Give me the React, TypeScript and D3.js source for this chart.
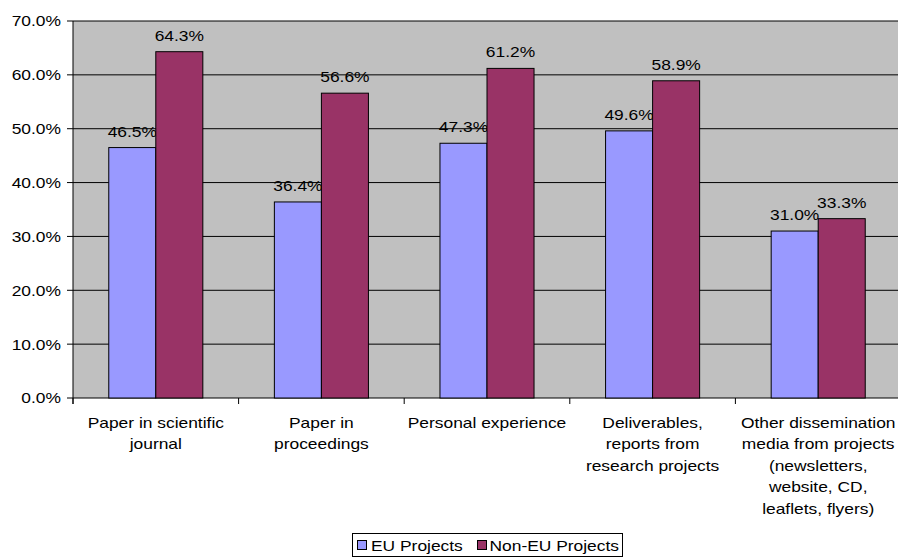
import React from "react";
import * as d3 from "d3";

const categories: string[][] = [
  ["Paper in scientific", "journal"],
  ["Paper in", "proceedings"],
  ["Personal experience"],
  ["Deliverables,", "reports from", "research projects"],
  ["Other dissemination", "media from projects", "(newsletters,", "website, CD,", "leaflets, flyers)"],
];
const euValues = [46.5, 36.4, 47.3, 49.6, 31.0];
const nonEuValues = [64.3, 56.6, 61.2, 58.9, 33.3];
const seriesNames = ["EU Projects", "Non-EU Projects"];
const yTicks = [0, 10, 20, 30, 40, 50, 60, 70];

const W = 898, H = 557;
const left = 73, right = 901, top = 21, bottom = 398;
const colors = ["#9999FF", "#993366"];
const font = "Arial, 'Liberation Sans', sans-serif";
const SX = 1.16;

function T(props: { x: number; y: number; anchor?: string; children: React.ReactNode; dy?: string }) {
  return (
    <text
      transform={`translate(${props.x},${props.y}) scale(${SX},1)`}
      dy={props.dy}
      textAnchor={props.anchor || "start"}
      fontSize={15}
      fill="#000"
    >
      {props.children}
    </text>
  );
}

export default function App() {
  const y = d3.scaleLinear().domain([0, 70]).range([bottom, top]);
  const x = d3.scaleBand<number>().domain(d3.range(categories.length)).range([left, right]).paddingInner(0).paddingOuter(0);
  const bw = x.bandwidth();
  const barW = bw * 0.284;
  const series = [euValues, nonEuValues];
  return (
    <svg width={W} height={H} style={{ position: "absolute", left: 0, top: 0 }} fontFamily={font}>
      <rect x={left} y={top} width={right - left} height={bottom - top} fill="#C0C0C0" />
      {yTicks.map((t) => (
        <g key={t}>
          <line x1={left} x2={right} y1={y(t)} y2={y(t)} stroke="#000" strokeWidth={1} />
          <line x1={left - 6} x2={left} y1={y(t)} y2={y(t)} stroke="#000" strokeWidth={1} />
          <T x={left - 12} y={y(t)} dy="0.36em" anchor="end">
            {t.toFixed(1)}%
          </T>
        </g>
      ))}
      <line x1={left} x2={left} y1={top} y2={bottom + 6} stroke="#000" />
      {categories.map((_, i) => (
        <line key={"t" + i} x1={(x(i) as number)} x2={(x(i) as number)} y1={bottom} y2={bottom + 6} stroke="#000" />
      ))}
      {categories.map((lines, i) => {
        const c = (x(i) as number) + bw / 2;
        return (
          <g key={"c" + i}>
            {series.map((vals, s) => {
              const bx = c - barW + s * barW;
              const v = vals[i];
              return (
                <g key={s}>
                  <rect x={bx} y={y(v)} width={barW} height={bottom - y(v)} fill={colors[s]} stroke="#000" strokeWidth={1} />
                  <T x={bx + barW / 2} y={y(v) - 11} anchor="middle">
                    {v.toFixed(1)}%
                  </T>
                </g>
              );
            })}
            {lines.map((l, k) => (
              <T key={k} x={c} y={428 + k * 21.4} anchor="middle">
                {l}
              </T>
            ))}
          </g>
        );
      })}
      <g>
        <rect x={352.5} y={533.5} width={270} height={23} fill="#fff" stroke="#000" />
        <rect x={357.5} y={540.5} width={9} height={9} fill={colors[0]} stroke="#000" />
        <T x={371} y={551}>{seriesNames[0]}</T>
        <rect x={477.5} y={540.5} width={9} height={9} fill={colors[1]} stroke="#000" />
        <T x={489.5} y={551}>{seriesNames[1]}</T>
      </g>
    </svg>
  );
}
